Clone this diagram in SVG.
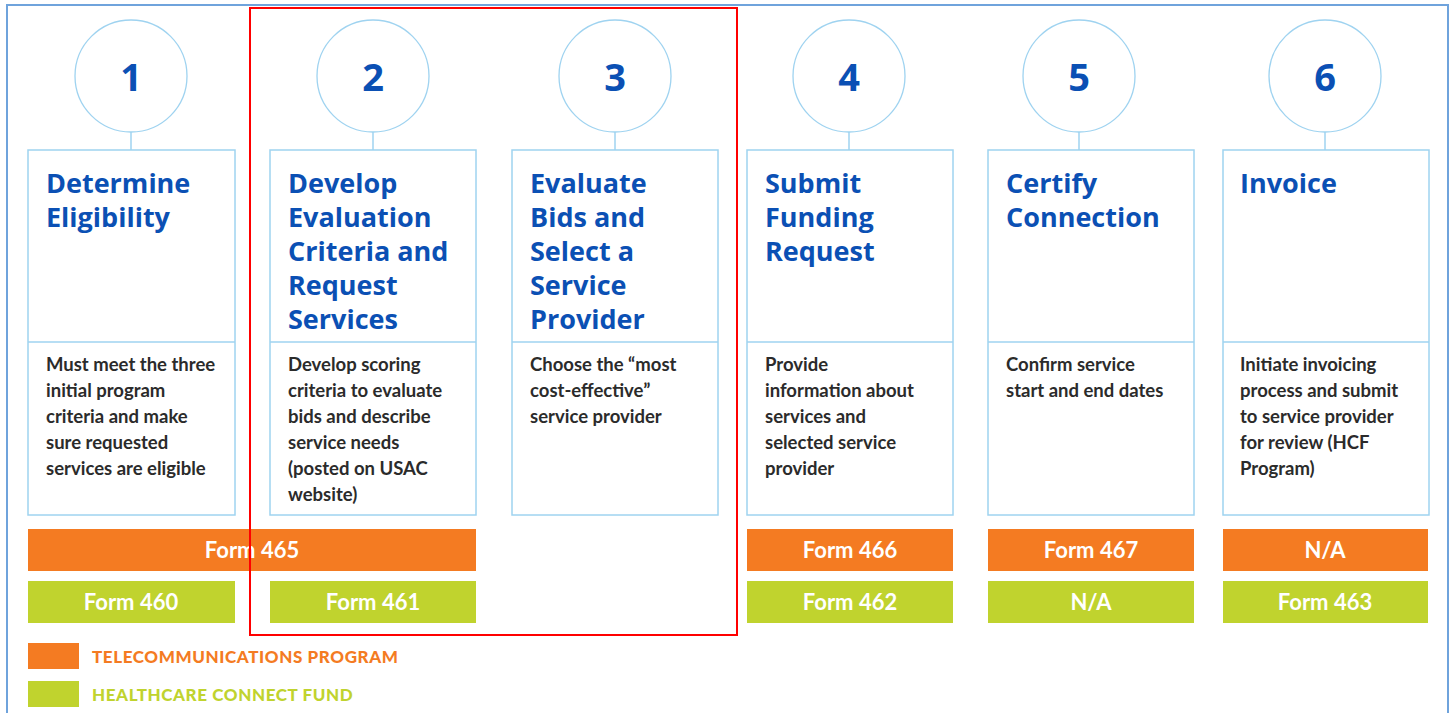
<svg xmlns="http://www.w3.org/2000/svg" width="1452" height="713" viewBox="0 0 1452 713">
<style>
.frame{fill:#fff;stroke:#6fa3dc;stroke-width:2}
.circ{fill:#fff;stroke:#9fd3f0;stroke-width:1.3}
.box{fill:#fff;stroke:#9fd3f0;stroke-width:1.5}
.conn{stroke:#9fd3f0;stroke-width:1.5}
.num{font-family:"Open Sans","Liberation Sans",sans-serif;font-weight:700;font-size:38px;fill:#0b50b4;text-anchor:middle}
.title{font-family:"Open Sans","Liberation Sans",sans-serif;font-weight:700;font-size:27px;fill:#0b50b4}
.body{font-family:Lato,"Liberation Sans",sans-serif;font-weight:700;font-size:18.5px;fill:#2b2b2b}
.or{fill:#f47b22}
.gr{fill:#c0d32e}
.form{font-family:Lato,"Liberation Sans",sans-serif;font-weight:700;font-size:22px;fill:#fff;text-anchor:middle}
.leg{font-family:Lato,"Liberation Sans",sans-serif;font-weight:900;font-size:17px;letter-spacing:0.6px}
.hl{fill:none;stroke:#ff0000;stroke-width:2}
</style>
<rect x="0" y="0" width="1452" height="713" fill="#fff"/>
<rect class="frame" x="7" y="5" width="1441" height="720"/>
<g id="connectors">
<line class="conn" x1="131" y1="132" x2="131" y2="150"/>
<line class="conn" x1="373" y1="132" x2="373" y2="150"/>
<line class="conn" x1="615" y1="132" x2="615" y2="150"/>
<line class="conn" x1="849" y1="132" x2="849" y2="150"/>
<line class="conn" x1="1079" y1="132" x2="1079" y2="150"/>
<line class="conn" x1="1325" y1="132" x2="1325" y2="150"/>
</g>
<g id="step1">
<circle class="circ" cx="131" cy="76" r="56"/>
<text class="num" x="131" y="91">1</text>
<rect class="box" x="28" y="150" width="207" height="365"/>
<line class="conn" x1="28" y1="342" x2="235" y2="342"/>
<text class="title" x="46" y="193">Determine</text>
<text class="title" x="46" y="227">Eligibility</text>
<text class="body" x="46" y="371">Must meet the three</text>
<text class="body" x="46" y="397">initial program</text>
<text class="body" x="46" y="423">criteria and make</text>
<text class="body" x="46" y="449">sure requested</text>
<text class="body" x="46" y="475">services are eligible</text>
</g>
<g id="step2">
<circle class="circ" cx="373" cy="76" r="56"/>
<text class="num" x="373" y="91">2</text>
<rect class="box" x="270" y="150" width="206" height="365"/>
<line class="conn" x1="270" y1="342" x2="476" y2="342"/>
<text class="title" x="288" y="193">Develop</text>
<text class="title" x="288" y="227">Evaluation</text>
<text class="title" x="288" y="261">Criteria and</text>
<text class="title" x="288" y="295">Request</text>
<text class="title" x="288" y="329">Services</text>
<text class="body" x="288" y="371">Develop scoring</text>
<text class="body" x="288" y="397">criteria to evaluate</text>
<text class="body" x="288" y="423">bids and describe</text>
<text class="body" x="288" y="449">service needs</text>
<text class="body" x="288" y="475">(posted on USAC</text>
<text class="body" x="288" y="501">website)</text>
</g>
<g id="step3">
<circle class="circ" cx="615" cy="76" r="56"/>
<text class="num" x="615" y="91">3</text>
<rect class="box" x="512" y="150" width="206" height="365"/>
<line class="conn" x1="512" y1="342" x2="718" y2="342"/>
<text class="title" x="530" y="193">Evaluate</text>
<text class="title" x="530" y="227">Bids and</text>
<text class="title" x="530" y="261">Select a</text>
<text class="title" x="530" y="295">Service</text>
<text class="title" x="530" y="329">Provider</text>
<text class="body" x="530" y="371">Choose the “most</text>
<text class="body" x="530" y="397">cost-effective”</text>
<text class="body" x="530" y="423">service provider</text>
</g>
<g id="step4">
<circle class="circ" cx="849" cy="76" r="56"/>
<text class="num" x="849" y="91">4</text>
<rect class="box" x="747" y="150" width="206" height="365"/>
<line class="conn" x1="747" y1="342" x2="953" y2="342"/>
<text class="title" x="765" y="193">Submit</text>
<text class="title" x="765" y="227">Funding</text>
<text class="title" x="765" y="261">Request</text>
<text class="body" x="765" y="371">Provide</text>
<text class="body" x="765" y="397">information about</text>
<text class="body" x="765" y="423">services and</text>
<text class="body" x="765" y="449">selected service</text>
<text class="body" x="765" y="475">provider</text>
</g>
<g id="step5">
<circle class="circ" cx="1079" cy="76" r="56"/>
<text class="num" x="1079" y="91">5</text>
<rect class="box" x="988" y="150" width="206" height="365"/>
<line class="conn" x1="988" y1="342" x2="1194" y2="342"/>
<text class="title" x="1006" y="193">Certify</text>
<text class="title" x="1006" y="227">Connection</text>
<text class="body" x="1006" y="371">Confirm service</text>
<text class="body" x="1006" y="397">start and end dates</text>
</g>
<g id="step6">
<circle class="circ" cx="1325" cy="76" r="56"/>
<text class="num" x="1325" y="91">6</text>
<rect class="box" x="1223" y="150" width="206" height="365"/>
<line class="conn" x1="1223" y1="342" x2="1429" y2="342"/>
<text class="title" x="1240" y="193">Invoice</text>
<text class="body" x="1240" y="371">Initiate invoicing</text>
<text class="body" x="1240" y="397">process and submit</text>
<text class="body" x="1240" y="423">to service provider</text>
<text class="body" x="1240" y="449">for review (HCF</text>
<text class="body" x="1240" y="475">Program)</text>
</g>
<g id="forms">
<rect class="or" x="28" y="529" width="448" height="42"/>
<text class="form" x="252" y="558">Form 465</text>
<rect class="gr" x="28" y="581" width="207" height="42"/>
<text class="form" x="131" y="610">Form 460</text>
<rect class="gr" x="270" y="581" width="206" height="42"/>
<text class="form" x="373" y="610">Form 461</text>
<rect class="or" x="747" y="529" width="206" height="42"/>
<text class="form" x="850" y="558">Form 466</text>
<rect class="gr" x="747" y="581" width="206" height="42"/>
<text class="form" x="850" y="610">Form 462</text>
<rect class="or" x="988" y="529" width="206" height="42"/>
<text class="form" x="1091" y="558">Form 467</text>
<rect class="gr" x="988" y="581" width="206" height="42"/>
<text class="form" x="1091" y="610">N/A</text>
<rect class="or" x="1223" y="529" width="205" height="42"/>
<text class="form" x="1325" y="558">N/A</text>
<rect class="gr" x="1223" y="581" width="205" height="42"/>
<text class="form" x="1325" y="610">Form 463</text>
</g>
<g id="legend">
<rect class="or" x="28" y="643" width="51" height="26"/>
<text class="leg" x="92" y="663" fill="#f47b22">TELECOMMUNICATIONS PROGRAM</text>
<rect class="gr" x="28" y="681" width="51" height="26"/>
<text class="leg" x="92" y="701" fill="#c0d32e">HEALTHCARE CONNECT FUND</text>
</g>
<rect id="highlight" class="hl" x="250" y="8" width="487" height="627"/>
</svg>
